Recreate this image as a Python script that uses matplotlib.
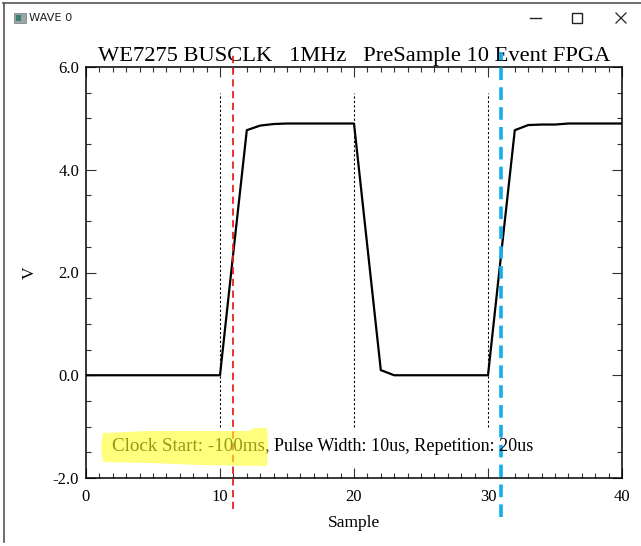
import matplotlib
matplotlib.use("Agg")
import matplotlib.pyplot as plt
from matplotlib.patches import Polygon, Rectangle
from matplotlib.lines import Line2D

# ---- data ----
samples = list(range(41))
volts = [0.0, 0.0, 0.0, 0.0, 0.0, 0.0, 0.0, 0.0, 0.0, 0.0, 0.0,
         2.4, 4.77, 4.86, 4.89, 4.9, 4.9, 4.9, 4.9, 4.9, 4.9,
         2.5, 0.1, 0.0, 0.0, 0.0, 0.0, 0.0, 0.0, 0.0, 0.0,
         2.4, 4.77, 4.87, 4.88, 4.88, 4.9, 4.9, 4.9, 4.9, 4.9]
marker_x = [10, 20, 30]
marker_ymin, marker_ymax = -1.0, 5.5
red_x = 11
blue_x = 31
x_ticks = [0, 10, 20, 30, 40]
y_ticks = [-2.0, 0.0, 2.0, 4.0, 6.0]
title = "WE7275 BUSCLK   1MHz   PreSample 10 Event FPGA"
note_hl = "Clock Start: -100ms"
note_rest = ", Pulse Width: 10us, Repetition: 20us"

W, H = 641, 546
fig = plt.figure(figsize=(W / 100, H / 100), dpi=100)
fig.patch.set_facecolor("white")

def fx(px):
    return px / W

def fy(py):
    return 1 - py / H

serif = ["Liberation Serif", "DejaVu Serif"]

# axes placement (pixels): left 86, right 622, top 67, bottom 478
ax = fig.add_axes([fx(86), fy(478), (622 - 86) / W, (478 - 67) / H])
ax.set_xlim(0, 40)
ax.set_ylim(-2, 6)

ax.plot(samples, volts, color="black", lw=1.6, zorder=3)
for mx in marker_x:
    ax.plot([mx, mx], [marker_ymin, marker_ymax], color="black", lw=0.8,
            linestyle=(0, (2, 2)), zorder=2)
ax.plot([red_x, red_x], [-2.6, 6.25], color="#e8231c", lw=1.3,
        linestyle=(0, (4, 2.5)), clip_on=False, zorder=4)
ax.plot([blue_x, blue_x], [-2.75, 6.3], color="#14aee8", lw=2.6,
        linestyle=(0, (3.5, 2)), clip_on=False, zorder=4)

ax.set_xticks(x_ticks)
ax.set_xticklabels([str(t) for t in x_ticks], fontfamily=serif, fontsize=12)
ax.set_yticks(y_ticks)
ax.set_yticklabels([f"{t:.1f}" for t in y_ticks], fontfamily=serif, fontsize=12)
ax.set_xticks(range(0, 41, 1), minor=True)
ax.set_yticks([v / 2 for v in range(-4, 13)], minor=True)
ax.tick_params(which="both", direction="in", top=True, right=True,
               color="#333333", width=0.8)
ax.tick_params(which="major", length=7, pad=5)
ax.tick_params(axis="x", which="major", pad=8)
ax.tick_params(which="minor", length=3.5)
for s in ax.spines.values():
    s.set_linewidth(1.1)

ax.set_title(title, fontfamily=serif, fontsize=16.2, pad=4)
ax.set_xlabel("Sample", fontfamily=serif, fontsize=12.5, labelpad=7)
ax.set_ylabel("V", fontfamily=serif, fontsize=12.5, labelpad=11)

t1 = ax.text(1.95, -1.38, note_hl, fontfamily=serif, fontsize=13.7,
             va="center", ha="left", zorder=5)
fig.canvas.draw()
bb = t1.get_window_extent()
inv = ax.transData.inverted()
x_end = inv.transform((bb.x1, bb.y0))[0]
ax.text(x_end, -1.38, note_rest, fontfamily=serif, fontsize=13.1,
        va="center", ha="left", zorder=5)

# highlighter stroke over the first part of the note
r = bb.x1 + 2  # pixel x of right end of the stroke
hl_pts = [(103, 433), (150, 431), (200, 431), (r - 18, 431), (r - 13, 428),
          (r, 428), (r + 1, 446), (r, 466), (200, 465), (150, 463),
          (103, 462), (101, 447)]
fig.add_artist(Polygon([(fx(x), fy(y)) for x, y in hl_pts], closed=True,
                       transform=fig.transFigure, facecolor=(1, 1, 0.15),
                       alpha=0.6, edgecolor="none", zorder=10))

# ---- window chrome ----
fig.add_artist(Line2D([fx(3), fx(641)], [fy(3), fy(3)], color="#555555",
                      lw=1.2, transform=fig.transFigure))
fig.add_artist(Line2D([fx(4), fx(4)], [fy(3), fy(542)], color="#555555",
                      lw=1.2, transform=fig.transFigure))
fig.add_artist(Rectangle((fx(14), fy(23)), fx(12), 10 / H, facecolor="#9aa5a8",
                         edgecolor="#7b8a8d", lw=0.6, transform=fig.transFigure))
fig.add_artist(Rectangle((fx(16), fy(21)), fx(5), 6 / H, facecolor="#3e7c6e",
                         edgecolor="none", transform=fig.transFigure))
fig.text(fx(29), fy(18), "WAVE 0", fontfamily="DejaVu Sans", fontsize=8.2,
         va="center", ha="left", color="#222222")
fig.add_artist(Line2D([fx(530), fx(541)], [fy(18), fy(18)], color="#222222",
                      lw=1.0, transform=fig.transFigure))
fig.add_artist(Rectangle((fx(572), fy(23)), fx(10), 10 / H, facecolor="none",
                         edgecolor="#222222", lw=1.0, transform=fig.transFigure))
fig.add_artist(Line2D([fx(616), fx(626)], [fy(13), fy(23)], color="#222222",
                      lw=0.9, transform=fig.transFigure))
fig.add_artist(Line2D([fx(616), fx(626)], [fy(23), fy(13)], color="#222222",
                      lw=0.9, transform=fig.transFigure))

fig.savefig("out.png", dpi=100)
